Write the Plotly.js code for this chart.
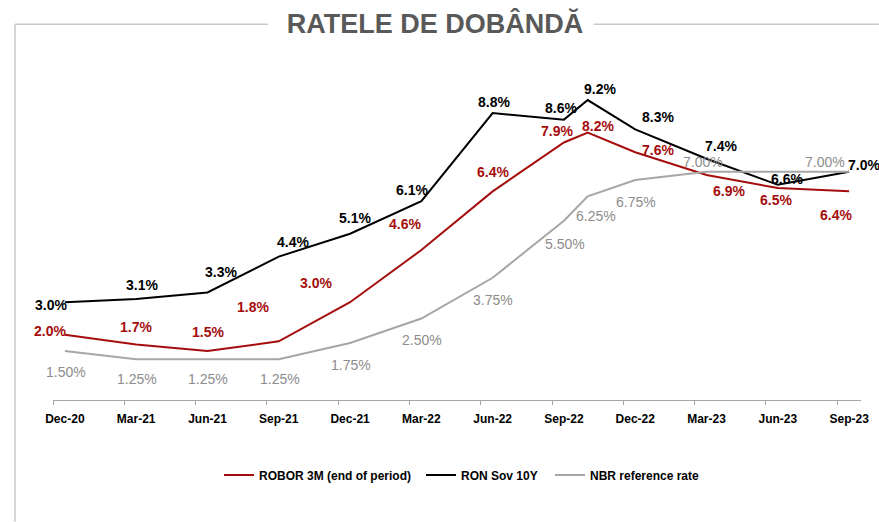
<!DOCTYPE html>
<html>
<head>
<meta charset="utf-8">
<script src="https://cdn.plot.ly/plotly-3.0.1.min.js"></script>
<style>html,body{margin:0;padding:0;background:#fff;}#chart{width:879px;height:522px;}</style>
</head>
<body>
<div id="chart"></div>
<script>
// ---- data ----
const dates = ['2020-12','2021-03','2021-06','2021-09','2021-12','2022-03','2022-06','2022-09','2022-10','2022-12','2023-03','2023-06','2023-09'];
const robor3m = [2.0, 1.7, 1.5, 1.8, 3.0, 4.6, 6.4, 7.9, 8.2, 7.6, 6.9, 6.5, 6.4];
const ronSov10y = [3.0, 3.1, 3.3, 4.4, 5.1, 6.1, 8.8, 8.6, 9.2, 8.3, 7.4, 6.6, 7.0];
const nbrRate = [1.50, 1.25, 1.25, 1.25, 1.75, 2.50, 3.75, 5.50, 6.25, 6.75, 7.00, 7.00, 7.00];
const nbrLabelShown = [true, true, true, true, true, true, true, true, true, true, true, false, true];
const tickDates = ['2020-12','2021-03','2021-06','2021-09','2021-12','2022-03','2022-06','2022-09','2022-12','2023-03','2023-06','2023-09'];
const tickLabels = ['Dec-20','Mar-21','Jun-21','Sep-21','Dec-21','Mar-22','Jun-22','Sep-22','Dec-22','Mar-23','Jun-23','Sep-23'];
const seriesNames = ['ROBOR 3M (end of period)', 'RON Sov 10Y', 'NBR reference rate'];

// ---- styling / positions ----
const W = 879, H = 522;
const M = {l: 53.3, r: 17.9, t: 73.9, b: 121.6};
const FONT = 'Liberation Sans, Arial, sans-serif';
const RED = '#a50d0d', BLACK = '#000000', GRAY_LINE = '#a6a6a6', GRAY_TEXT = '#8c8c8c';

// label offsets (px, dx right, dy down) relative to each point
const roborOff = [[-15,-4],[0,-18],[1,-19],[-26,-34],[-34,-19],[-16,-26],[0,-19],[-7,-11],[10,-7],[23,-2],[22,16],[-2,12],[-13,24]];
const ronOff = [[-14,3],[6,-14],[14,-20],[14,-15],[5,-16],[-9,-11],[1,-11],[-3,-12],[12,-11],[23,-12],[14,-13],[9,-6],[15,-7]];
const nbrOff = [[1,21],[1,20],[1,20],[1,20],[1,22],[1,21],[0,22],[1,23],[8,20],[1,22],[-4,-10],[0,0],[-24,-10]];

function monthIndex(s) { const [y, m] = s.split('-').map(Number); return (y - 2020) * 12 + (m - 12); }
const xs = dates.map(monthIndex);
const tickX = tickDates.map(monthIndex);
const boundaryX = tickX.map(v => v - 0.5);

const traces = [
  {x: xs, y: robor3m, name: seriesNames[0], mode: 'lines', line: {color: RED, width: 2}, legend: 'legend'},
  {x: xs, y: ronSov10y, name: seriesNames[1], mode: 'lines', line: {color: BLACK, width: 2}, legend: 'legend2'},
  {x: xs, y: nbrRate, name: seriesNames[2], mode: 'lines', line: {color: GRAY_LINE, width: 2}, legend: 'legend3'},
  // helper trace for tick marks on overlay axis
  {x: [xs[0]], y: [null], xaxis: 'x2', mode: 'lines', showlegend: false, hoverinfo: 'skip'}
];

const annotations = [];
function addLabels(vals, offs, color, bold, digits, shown) {
  vals.forEach((v, i) => {
    if (shown && !shown[i]) return;
    annotations.push({
      x: xs[i], y: v, xref: 'x', yref: 'y', text: v.toFixed(digits) + '%',
      showarrow: false, xanchor: 'center', yanchor: 'middle',
      xshift: offs[i][0], yshift: -offs[i][1],
      font: {family: FONT, size: 14, color: color, weight: bold ? 'bold' : 'normal'}
    });
  });
}
addLabels(robor3m, roborOff, RED, true, 1);
addLabels(ronSov10y, ronOff, BLACK, true, 1);
addLabels(nbrRate, nbrOff, GRAY_TEXT, false, 2, nbrLabelShown);

const pw = W - M.l - M.r, ph = H - M.t - M.b;
const px2paper = px => (px - M.l) / pw;
const py2paper = py => (H - M.b - py) / ph;
const frame = {type: 'line', xref: 'paper', yref: 'paper', line: {color: '#c8c8c8', width: 1.5}};
const shapes = [
  Object.assign({}, frame, {x0: px2paper(15.3), x1: px2paper(268), y0: py2paper(24), y1: py2paper(24)}),
  Object.assign({}, frame, {x0: px2paper(594), x1: px2paper(879), y0: py2paper(24), y1: py2paper(24)}),
  Object.assign({}, frame, {x0: px2paper(15.3), x1: px2paper(15.3), y0: py2paper(24), y1: py2paper(522)})
];

const legendBase = {orientation: 'h', xref: 'container', yref: 'container', xanchor: 'left', yanchor: 'middle',
  y: 1 - 475 / H, bgcolor: 'rgba(0,0,0,0)', font: {family: FONT, size: 12, color: '#000', weight: 'bold'}};

const layout = {
  width: W, height: H, margin: M,
  paper_bgcolor: '#fff', plot_bgcolor: '#fff',
  showlegend: true,
  title: {text: 'RATELE DE DOBÂNDĂ', x: 435 / W, xref: 'container', xanchor: 'center', y: 1 - 24 / H, yref: 'container', yanchor: 'middle',
    font: {family: FONT, size: 27, color: '#595959', weight: 'bold'}},
  xaxis: {range: [-0.5, 33.5], tickmode: 'array', tickvals: tickX, ticktext: tickLabels, ticks: '', showline: false,
    showgrid: false, zeroline: false, fixedrange: true, ticklabelstandoff: 10,
    tickfont: {family: FONT, size: 12, color: '#000', weight: 'bold'}},
  xaxis2: {overlaying: 'x', range: [-0.5, 33.5], tickmode: 'array', tickvals: boundaryX, showticklabels: false,
    ticks: 'outside', ticklen: 4, tickcolor: '#a6a6a6', tickwidth: 1, showline: true, linecolor: '#a6a6a6', linewidth: 1,
    showgrid: false, zeroline: false, side: 'bottom', anchor: 'y'},
  yaxis: {range: [0, 10], visible: false, showgrid: false, zeroline: false, fixedrange: true},
  legend: Object.assign({}, legendBase, {x: 219 / W}),
  legend2: Object.assign({}, legendBase, {x: 421 / W}),
  legend3: Object.assign({}, legendBase, {x: 550 / W}),
  annotations: annotations,
  shapes: shapes
};

Plotly.newPlot('chart', traces, layout, {staticPlot: true, displayModeBar: false});
</script>
</body>
</html>
